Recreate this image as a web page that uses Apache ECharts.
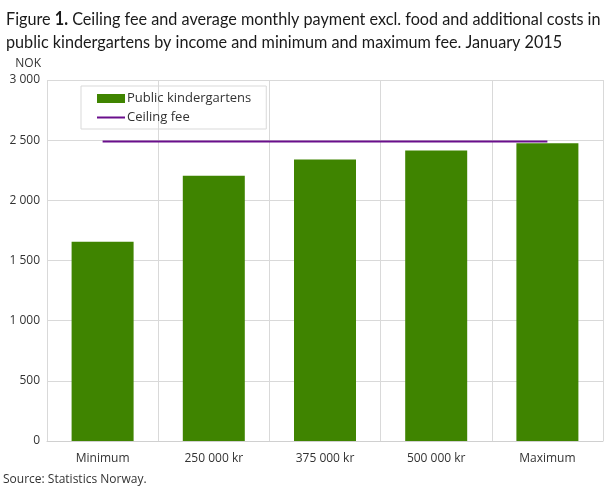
<!DOCTYPE html>
<html><head><meta charset="utf-8">
<script src="https://cdn.jsdelivr.net/npm/echarts@6/dist/echarts.min.js"></script>
<style>html,body{margin:0;padding:0;background:#fff}#c{width:609px;height:489px}</style>
</head><body><div id="c"></div>
<script>
const categories = ['Minimum', '250 000 kr', '375 000 kr', '500 000 kr', 'Maximum'];
const publicKindergartens = [1655, 2205, 2340, 2415, 2475];
const ceilingFee = [2488, 2488, 2488, 2488, 2488];
const yTicks = [0, 500, 1000, 1500, 2000, 2500, 3000];

const font = '"Open Sans", "Noto Sans", sans-serif';
const titleFont = 'Lato, sans-serif';
const chart = echarts.init(document.getElementById('c'), null, {renderer: 'canvas'});
chart.setOption({
  animation: false,
  textStyle: {fontFamily: font},
  graphic: [{
    type: 'text', x: 6, y: 8, scaleX: 0.9,
    style: {
      text: '{n|Figure }{b|1.}{n| Ceiling fee and average monthly payment excl. food and additional costs in}\n{n|public kindergartens by income and minimum and maximum fee. January 2015}',
      rich: {
        n: {fontFamily: titleFont, fontSize: 18, fill: '#1a1a1a', lineHeight: 23},
        b: {fontFamily: titleFont, fontSize: 18, fontWeight: 'bold', fill: '#1a1a1a', lineHeight: 23}
      }
    }
  }, {
    type: 'text', left: 3, top: 474,
    style: {text: 'Source: Statistics Norway.', fontFamily: font, fontSize: 12, fill: '#333'}
  }],
  legend: {
    orient: 'vertical', left: 81, top: 86,
    padding: [6, 15, 5, 15],
    borderColor: '#d9d9d9', borderWidth: 1,
    itemWidth: 28, itemHeight: 9, itemGap: 6,
    textStyle: {fontFamily: font, fontSize: 13, color: '#333', padding: [0, 0, 0, -3]},
    data: [
      {name: 'Public kindergartens', icon: 'rect'},
      {name: 'Ceiling fee', itemStyle: {opacity: 0}}
    ]
  },
  grid: {left: 47, right: 6, top: 80, bottom: 48, containLabel: false},
  xAxis: {
    type: 'category', data: categories,
    axisLine: {show: true, lineStyle: {color: '#d0d0d0'}},
    axisTick: {show: false},
    axisLabel: {color: '#333', fontSize: 12, margin: 12, fontFamily: font},
    splitLine: {show: true, lineStyle: {color: '#d9d9d9'}}
  },
  yAxis: {
    type: 'value', min: yTicks[0], max: yTicks[yTicks.length - 1], interval: 500,
    name: 'NOK', nameLocation: 'end', nameGap: 10,
    nameTextStyle: {color: '#333', fontSize: 12, align: 'right', padding: [0, 6, 0, 0], fontFamily: font},
    axisLine: {show: false}, axisTick: {show: false},
    axisLabel: {color: '#333', fontSize: 12, margin: 7, fontFamily: font,
      formatter: v => String(v).replace(/\B(?=(\d{3})+(?!\d))/g, ' ')},
    splitLine: {show: true, lineStyle: {color: '#d9d9d9'}}
  },
  series: [
    {name: 'Public kindergartens', type: 'bar', data: publicKindergartens, barWidth: 62,
     itemStyle: {color: '#3f8400'}},
    {name: 'Ceiling fee', type: 'line', data: ceilingFee, symbol: 'none', showSymbol: false,
     lineStyle: {color: '#6a0f8c', width: 2}, itemStyle: {color: '#6a0f8c'}}
  ]
});
</script></body></html>
